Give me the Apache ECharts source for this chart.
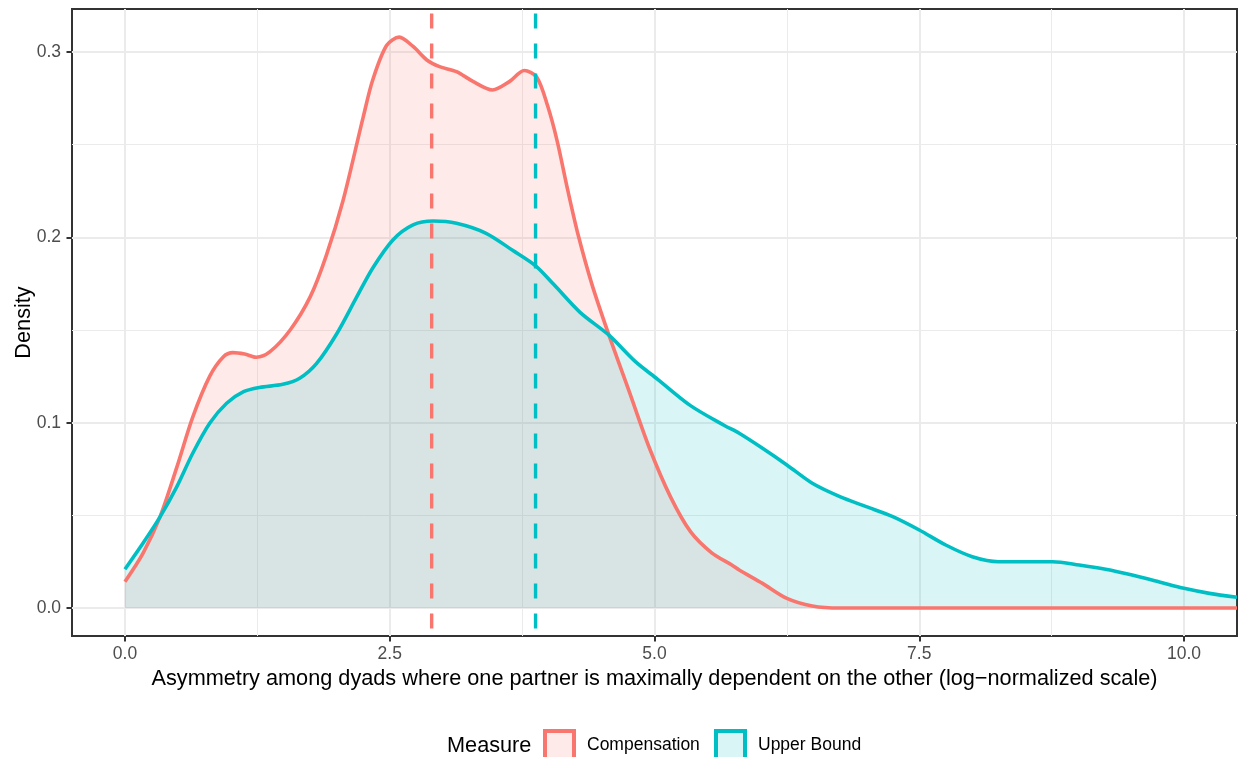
<!DOCTYPE html>
<html>
<head>
<meta charset="utf-8">
<title>Asymmetry density</title>
<script src="https://cdn.jsdelivr.net/npm/echarts@6/dist/echarts.min.js"></script>
<style>
  html, body { margin: 0; padding: 0; background: #ffffff; }
  #chart { width: 1238px; height: 757px; }
</style>
</head>
<body>
<div id="chart"></div>
<script>
// Kernel density estimates (log-normalized asymmetry scale)
const compensationX = [0, 0.17, 0.33, 0.49, 0.64, 0.80, 0.93, 1.02, 1.13, 1.24, 1.37, 1.56, 1.75, 1.90, 2.06, 2.25, 2.34, 2.47, 2.59, 2.72, 2.85, 2.97, 3.13, 3.29, 3.47, 3.63, 3.77, 3.89, 3.99, 4.08, 4.18, 4.28, 4.41, 4.57, 4.76, 4.95, 5.15, 5.34, 5.54, 5.73, 5.80, 6.02, 6.25, 6.49, 6.75, 7.5, 8.5, 9.5, 10.5];
const compensationY = [0.0142, 0.0295, 0.049, 0.076, 0.103, 0.125, 0.1356, 0.1378, 0.137, 0.1353, 0.1383, 0.150, 0.168, 0.190, 0.220, 0.265, 0.285, 0.3035, 0.308, 0.303, 0.2957, 0.2921, 0.2894, 0.284, 0.2795, 0.284, 0.290, 0.2863, 0.2711, 0.2522, 0.2257, 0.2011, 0.1745, 0.1472, 0.1170, 0.0866, 0.0601, 0.0412, 0.0298, 0.0232, 0.0205, 0.0133, 0.0052, 0.0011, 0, 0, 0, 0, 0];

const upperBoundX = [0, 0.17, 0.33, 0.49, 0.64, 0.80, 0.96, 1.12, 1.27, 1.49, 1.65, 1.81, 2.0, 2.19, 2.34, 2.53, 2.72, 2.91, 3.13, 3.41, 3.66, 3.88, 4.05, 4.30, 4.57, 4.82, 5.03, 5.34, 5.66, 5.80, 6.02, 6.25, 6.49, 6.75, 7.0, 7.25, 7.5, 7.75, 8.0, 8.25, 8.51, 8.76, 9.01, 9.26, 9.51, 9.76, 10.0, 10.24, 10.5];
const upperBoundY = [0.0209, 0.0349, 0.049, 0.0655, 0.0835, 0.0997, 0.1105, 0.1167, 0.119, 0.1207, 0.124, 0.132, 0.148, 0.168, 0.1835, 0.1986, 0.2067, 0.2088, 0.2076, 0.2022, 0.193, 0.1845, 0.1745, 0.1594, 0.1472, 0.1329, 0.1234, 0.1092, 0.0985, 0.0943, 0.0862, 0.0772, 0.0673, 0.0601, 0.0547, 0.0493, 0.0421, 0.034, 0.0277, 0.025, 0.025, 0.025, 0.0232, 0.0209, 0.0178, 0.0142, 0.0106, 0.0079, 0.0058];

// Group means (dashed reference lines)
const meanCompensation = 2.896;
const meanUpperBound = 3.877;

// Axis ticks and grid positions
const xTicks = [0, 2.5, 5, 7.5, 10];
const xMinorGrid = [1.25, 3.75, 6.25, 8.75];
const yTicks = [0, 0.1, 0.2, 0.3];
const yMinorGrid = [0.05, 0.15, 0.25];

const seriesNames = ['Compensation', 'Upper Bound'];
const legendTitle = 'Measure';
const xTitle = 'Asymmetry among dyads where one partner is maximally dependent on the other (log\u2212normalized scale)';
const yTitle = 'Density';

const X_MIN = -0.5, X_MAX = 10.5;
const Y_MIN = -0.0151, Y_MAX = 0.3232;

const RED = '#F8766D', CYAN = '#00BFC4';
const RED_FILL = 'rgba(248,118,109,0.15)', CYAN_FILL = 'rgba(0,191,196,0.15)';
const FONT = 'Liberation Sans, Arial, Helvetica, sans-serif';

const pairs = (xs, ys) => xs.map((x, i) => [x, ys[i]]);

const gridLines = [].concat(
  xTicks.map(v => ({ xAxis: v, lineStyle: { width: 2 } })),
  xMinorGrid.map(v => ({ xAxis: v, lineStyle: { width: 1 } })),
  yTicks.map(v => ({ yAxis: v, lineStyle: { width: 2 } })),
  yMinorGrid.map(v => ({ yAxis: v, lineStyle: { width: 1 } }))
);

const densitySeries = (name, xs, ys, color, fill) => ({
  name: name,
  type: 'line',
  data: pairs(xs, ys),
  smooth: 0.3,
  showSymbol: false,
  symbol: 'none',
  lineStyle: { color: color, width: 3.6 },
  itemStyle: { color: color },
  areaStyle: { color: fill, opacity: 1, origin: 0 },
  z: 2
});

const meanLine = (x, color) => ({
  type: 'line',
  data: [[x, Y_MAX], [x, Y_MIN]],
  symbol: 'none',
  silent: true,
  lineStyle: { color: color, width: 3.4, type: [15, 15], dashOffset: 25.5 },
  z: 3
});

const legendItem = (name, color, fill, left) => ({
  data: [{ name: name, icon: 'rect', itemStyle: { color: fill, borderColor: color, borderWidth: 4 } }],
  left: left,
  top: 729,
  padding: 0,
  itemWidth: 29,
  itemHeight: 29,
  selectedMode: false,
  textStyle: { fontFamily: FONT, fontSize: 17.5, color: '#000000', padding: [0, 0, 0, 8] }
});

const chart = echarts.init(document.getElementById('chart'), null, { renderer: 'canvas' });

chart.setOption({
  animation: false,
  backgroundColor: '#ffffff',
  textStyle: { fontFamily: FONT },
  grid: {
    left: 72, right: 1, top: 9, bottom: 121,
    outerBoundsMode: 'none',
    containLabel: false,
    show: true, borderColor: '#333333', borderWidth: 2, backgroundColor: 'transparent'
  },
  xAxis: {
    type: 'value', min: X_MIN, max: X_MAX,
    name: xTitle, nameLocation: 'middle', nameGap: 32, nameMoveOverlap: false,
    nameTextStyle: { fontFamily: FONT, fontSize: 21.7, color: '#000000' },
    axisLine: { show: false, onZero: false },
    axisTick: { show: true, length: 5.5, lineStyle: { color: '#333333', width: 2 }, customValues: xTicks },
    axisLabel: { customValues: xTicks, formatter: v => v.toFixed(1), color: '#4D4D4D', fontSize: 17.5, fontFamily: FONT, margin: 9 },
    splitLine: { show: false }
  },
  yAxis: {
    type: 'value', min: Y_MIN, max: Y_MAX,
    name: yTitle, nameLocation: 'middle', nameGap: 37, nameMoveOverlap: false,
    nameTextStyle: { fontFamily: FONT, fontSize: 21.7, color: '#000000' },
    axisLine: { show: false, onZero: false },
    axisTick: { show: true, length: 5.5, lineStyle: { color: '#333333', width: 2 }, customValues: yTicks },
    axisLabel: { customValues: yTicks, formatter: v => v.toFixed(1), color: '#4D4D4D', fontSize: 17.5, fontFamily: FONT, margin: 11 },
    splitLine: { show: false }
  },
  legend: [
    legendItem(seriesNames[0], RED, RED_FILL, 543),
    legendItem(seriesNames[1], CYAN, CYAN_FILL, 714)
  ],
  graphic: [{
    type: 'text', left: 447, top: 735,
    style: { text: legendTitle, fontFamily: FONT, fontSize: 21.7, fill: '#000000' }
  }],
  series: [
    {
      type: 'line', data: [], silent: true, z: 1,
      markLine: {
        silent: true, symbol: 'none', z: 1, label: { show: false },
        lineStyle: { color: '#EBEBEB', type: 'solid' },
        emphasis: { disabled: true },
        data: gridLines
      }
    },
    densitySeries(seriesNames[0], compensationX, compensationY, RED, RED_FILL),
    densitySeries(seriesNames[1], upperBoundX, upperBoundY, CYAN, CYAN_FILL),
    meanLine(meanCompensation, RED),
    meanLine(meanUpperBound, CYAN)
  ]
});
</script>
</body>
</html>
